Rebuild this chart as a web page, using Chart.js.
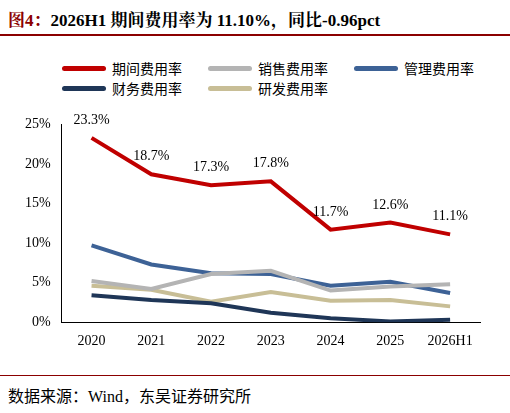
<!DOCTYPE html>
<html><head><meta charset="utf-8">
<script src="https://cdn.jsdelivr.net/npm/chart.js@4"></script>
<style>
body{margin:0;width:510px;height:413px;background:#fff;position:relative;font-family:"Liberation Serif","Noto Sans CJK SC",serif;overflow:hidden}
#title{position:absolute;left:8px;top:6px;font-size:17px;font-weight:bold;color:#000;font-family:"Liberation Serif","Noto Serif CJK SC","Noto Sans CJK SC",serif}
#title span{color:#8B0000}
#line1{position:absolute;left:0;top:34px;width:510px;height:2px;background:#8B0000}
#line2{position:absolute;left:0;top:375px;width:510px;height:1px;background:#8B0000}
#src{position:absolute;left:8px;top:383px;font-size:16px;color:#000}
#legend div{position:absolute;font-size:14px;font-family:"Noto Sans CJK SC",sans-serif;display:flex;align-items:center}
#legend i{display:inline-block;width:44px;height:5px;border-radius:3px;margin-right:6px}
#wrap{position:absolute;left:0;top:113px;width:510px;height:240px}
</style></head><body>
<div id="title"><span>图4：</span>2026H1 期间费用率为 11.10%，同比-0.96pct</div>
<div id="line1"></div>
<div id="legend"></div>
<div id="wrap"><canvas id="c"></canvas></div>
<div id="line2"></div>
<div id="src">数据来源：Wind，东吴证券研究所</div>
<script>
// ====== DATA ======
const categories = ["2020","2021","2022","2023","2024","2025","2026H1"];
const seriesNames = ["期间费用率","销售费用率","管理费用率","财务费用率","研发费用率"];
const periodRate = [23.3,18.7,17.3,17.8,11.7,12.6,11.1];
const salesRate = [5.2,4.2,6.1,6.5,4.0,4.5,4.8];
const mgmtRate = [9.7,7.3,6.2,6.1,4.6,5.1,3.7];
const finRate = [3.4,2.8,2.4,1.2,0.5,0.1,0.3];
const rdRate = [4.6,4.1,2.6,3.8,2.7,2.8,2.0];
const yTicks = [0,5,10,15,20,25];

const colors = ["#C00000","#B4B4B4","#3D6296","#1F3657","#C8BE96"];
const allData = [periodRate,salesRate,mgmtRate,finRate,rdRate];

// ====== LEGEND ======
const legendPos = [[62,58],[208,58],[354,58],[62,78],[208,78]];
const legend = document.getElementById("legend");
seriesNames.forEach((n,i) => {
  const d = document.createElement("div");
  d.style.left = legendPos[i][0]+"px";
  d.style.top = legendPos[i][1]+"px";
  d.innerHTML = `<i style="background:${colors[i]}"></i>${n}`;
  legend.appendChild(d);
});

// ====== LABELS PLUGIN ======
const labelPlugin = {
  id: "labels",
  afterDatasetsDraw(chart) {
    const ctx = chart.ctx;
    const meta = chart.getDatasetMeta(0);
    ctx.save();
    ctx.font = "14px 'Liberation Serif'";
    ctx.fillStyle = "#000";
    ctx.textAlign = "center";
    meta.data.forEach((p, i) => {
      ctx.fillText(periodRate[i].toFixed(1) + "%", p.x, p.y - 14);
    });
    ctx.restore();
  }
};

new Chart(document.getElementById("c"), {
  type: "line",
  data: {
    labels: categories,
    datasets: allData.map((d,i) => ({
      label: seriesNames[i], data: d, borderColor: colors[i],
      borderWidth: 4, pointRadius: 0, tension: 0, order: i === 0 ? 0 : 1
    }))
  },
  options: {
    responsive: true, maintainAspectRatio: false, animation: false,
    layout: { padding: { left: 22, right: 30, top: 6 } },
    plugins: { legend: { display: false }, tooltip: { enabled: false } },
    scales: {
      x: {
        offset: true,
        grid: { display: false, drawTicks: true },
        border: { color: "#000" },
        ticks: { color: "#000", font: { family: "Liberation Serif", size: 14 } }
      },
      y: {
        min: 0, max: 25,
        afterBuildTicks: ax => { ax.ticks = yTicks.map(v => ({ value: v })); },
        grid: { display: false },
        border: { color: "#000" },
        ticks: { color: "#000", font: { family: "Liberation Serif", size: 14 }, callback: v => v + "%" }
      }
    }
  },
  plugins: [labelPlugin]
});
</script>
</body></html>
